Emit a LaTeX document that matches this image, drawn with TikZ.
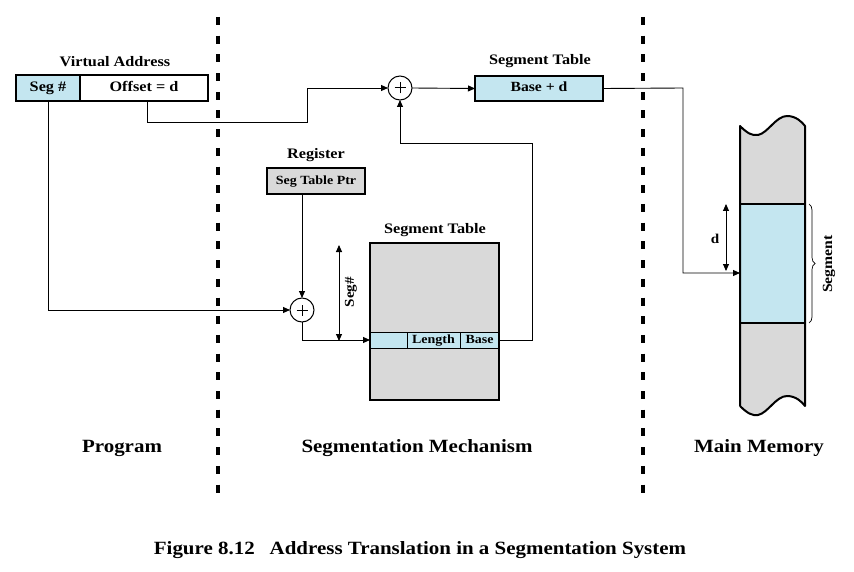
\documentclass[tikz,border=0pt]{standalone}
\usepackage{fontspec}
\setmainfont{Liberation Serif}[FakeStretch=1.12]
\usetikzlibrary{arrows.meta,decorations.pathreplacing,calc}
\definecolor{lblue}{RGB}{196,230,240}
\definecolor{lgray}{RGB}{217,217,217}
\tikzset{
  lbl/.style={font=\bfseries\fontsize{14.5}{16}\selectfont, inner sep=0},
  big/.style={font=\bfseries\fontsize{18.7}{22}\selectfont, inner sep=0},
  cell/.style={draw, line width=1.2pt, inner sep=0, outer sep=0, minimum height=26, text height=9.5pt, text depth=2.5pt},
  rowcell/.style={draw, line width=1pt, fill=lblue, inner sep=0, outer sep=0, minimum height=16, text height=8.5pt, text depth=2pt, font=\bfseries\fontsize{12.5}{14}\selectfont},
  conn/.style={line width=0.9pt},
  arr/.style={conn, -{Triangle[length=7pt,width=6pt]}},
  darr/.style={conn, {Triangle[length=7pt,width=6pt]}-{Triangle[length=7pt,width=6pt]}},
  adder/.style={draw, circle, line width=1pt, minimum size=24, inner sep=0, outer sep=0,
    path picture={\draw[line width=1pt] ([xshift=-5.5pt]path picture bounding box.center) -- ([xshift=5.5pt]path picture bounding box.center)
      ([yshift=-5.5pt]path picture bounding box.center) -- ([yshift=5.5pt]path picture bounding box.center);}},
  sep/.style={line width=4pt, dash pattern=on 8pt off 10.7pt}
}
\begin{document}
\begin{tikzpicture}[x=1pt,y=-1pt]
\useasboundingbox (0,0) rectangle (854,572);

% separators
\coordinate (s1a) at (218,17); \coordinate (s1b) at (218,497);
\coordinate (s2a) at (643,17); \coordinate (s2b) at (643,497);
\draw[sep] (s1a) -- (s1b);
\draw[sep] (s2a) -- (s2b);

% virtual address
\node[lbl] (valbl) at (115,62) {Virtual Address};
\node[cell, fill=lblue, minimum width=64, font=\bfseries\fontsize{14.5}{16}\selectfont] (seg) at (48,88) {Seg \#};
\node[cell, fill=white, minimum width=128, font=\bfseries\fontsize{14.5}{16}\selectfont] (off) at (144,88) {Offset = d};

% adders
\node[adder] (p1) at (400,88) {};
\node[adder] (p2) at (302,310) {};

% top segment table entry
\node[lbl] (stlbl1) at (540,61) {Segment Table};
\node[cell, fill=lblue, minimum width=128, minimum height=25, font=\bfseries\fontsize{14}{16}\selectfont] (bt) at (539,88.5) {Base + d};

% register
\node[lbl] (reglbl) at (316,155) {Register};
\node[cell, fill=lgray, minimum width=98, font=\bfseries\fontsize{12.5}{14}\selectfont] (reg) at (316,181) {Seg Table Ptr};

% segment table
\node[lbl] (stlbl2) at (435,230) {Segment Table};
\node[draw, line width=1.5pt, fill=lgray, minimum width=129, minimum height=157, inner sep=0, outer sep=0] (st) at (434.5,321.5) {};
\node[rowcell, minimum width=37] (r1) at (388.5,340) {};
\node[rowcell, minimum width=53] (r2) at (433.5,340) {Length};
\node[rowcell, minimum width=39] (r3) at (479.5,340) {Base};
\draw[line width=1.5pt] (st.north west) rectangle (st.south east);

% seg# dimension
\coordinate (sa) at (339,245); \coordinate (sb) at (339,341);
\draw[darr] (sa) -- (sb);
\node[font=\bfseries\fontsize{13.5}{15}\selectfont, rotate=90, inner sep=0] (seglbl) at (351,292) {Seg\#};

% main memory
\path[fill=lgray] (740,126) .. controls (747,133) and (752,136) .. (758,135)
   .. controls (768,133) and (776,116) .. (787,116)
   .. controls (796,116) and (802,122) .. (805,126)
   -- (805,406) .. controls (802,402) and (796,396) .. (787,396)
   .. controls (776,396) and (768,413) .. (758,415)
   .. controls (752,416) and (747,413) .. (740,406) -- cycle;
\node[draw, line width=1.5pt, fill=lblue, minimum width=65, minimum height=119, inner sep=0, outer sep=0] (segm) at (772.5,263.5) {};
\draw[line width=2pt, line join=round] (740,406) -- (740,126) .. controls (747,133) and (752,136) .. (758,135)
   .. controls (768,133) and (776,116) .. (787,116)
   .. controls (796,116) and (802,122) .. (805,126) -- (805,406)
   .. controls (802,402) and (796,396) .. (787,396)
   .. controls (776,396) and (768,413) .. (758,415)
   .. controls (752,416) and (747,413) .. (740,406);
\coordinate (m1) at (740,273);
\coordinate (da) at (726,204); \coordinate (db) at (726,271);
\draw[darr] (da) -- (db);
\node[font=\bfseries\fontsize{13.5}{15}\selectfont, inner sep=0] (dlbl) at (715,239) {d};
\coordinate (ba) at (809,204); \coordinate (bb) at (809,323);
\draw[line width=0.7pt, decorate, decoration={brace, amplitude=6pt}] (ba) -- (bb);
\node[font=\bfseries\fontsize{14}{15}\selectfont, rotate=90, inner sep=0] (segmlbl) at (829,264) {Segment};

% connectors
\coordinate (c1) at (307,122);
\coordinate (c2) at (683,88);
\coordinate (c3) at (532,143);
\draw[arr] (seg.south) |- (p2.west);
\draw[arr] ([xshift=3pt]off.south) |- (c1) |- (p1.west);
\draw[arr] (p1.east) -- (bt.west);
\draw[arr] (bt.east) -- (c2) |- (m1);
\draw[arr] (p2 |- reg.south) -- (p2.north);
\draw[arr] (p2.south) |- (r1.west);
\draw[arr] (r3.east) -| (c3) -| (p1.south);

% bottom labels
\node[big] (prog) at (122,448) {Program};
\node[big] (mech) at (417,448) {Segmentation Mechanism};
\node[big] (mm) at (759,448) {Main Memory};
\node[big] (title) at (420,550) {Figure 8.12\hspace{0.8em}Address Translation in a Segmentation System};
\end{tikzpicture}
\end{document}
